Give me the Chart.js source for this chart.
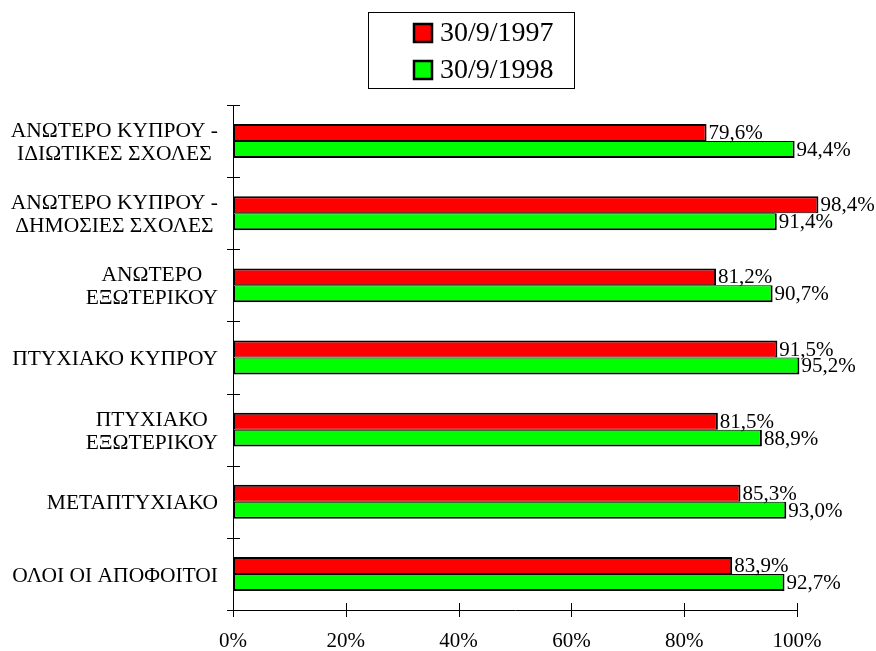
<!DOCTYPE html>
<html>
<head>
<meta charset="utf-8">
<script src="https://cdn.jsdelivr.net/npm/chart.js@4/dist/chart.umd.min.js"></script>
<style>
  body { margin: 0; background: #fff; }
  canvas { display: block; }
</style>
</head>
<body>
<canvas id="gradChart" width="876" height="651"></canvas>
<script>
const categories = [
    ['ΑΝΩΤΕΡΟ ΚΥΠΡΟΥ -', 'ΙΔΙΩΤΙΚΕΣ ΣΧΟΛΕΣ'],
    ['ΑΝΩΤΕΡΟ ΚΥΠΡΟΥ -', 'ΔΗΜΟΣΙΕΣ ΣΧΟΛΕΣ'],
    ['ΑΝΩΤΕΡΟ', 'ΕΞΩΤΕΡΙΚΟΥ'],
    'ΠΤΥΧΙΑΚΟ ΚΥΠΡΟΥ',
    ['ΠΤΥΧΙΑΚΟ', 'ΕΞΩΤΕΡΙΚΟΥ'],
    'ΜΕΤΑΠΤΥΧΙΑΚΟ',
    'ΟΛΟΙ ΟΙ ΑΠΟΦΟΙΤΟΙ'
];
const seriesNames = ['30/9/1997', '30/9/1998'];
const values1997 = [79.6, 98.4, 81.2, 91.5, 81.5, 85.3, 83.9];
const values1998 = [94.4, 91.4, 90.7, 95.2, 88.9, 93.0, 92.7];
const axisTicks = [0, 20, 40, 60, 80, 100];

const FONT = "'Times New Roman', 'Liberation Serif', serif";

function pct(v) {
    return v.toFixed(1).replace('.', ',') + '%';
}

// extra drawing: crossing tick marks, centred category labels, value labels, boxed legend
const extras = {
    id: 'extras',
    afterDraw(chart) {
        const ctx = chart.ctx;
        const xs = chart.scales.x;
        const ys = chart.scales.y;
        const area = chart.chartArea;
        ctx.save();
        ctx.strokeStyle = '#000';
        ctx.lineWidth = 1;

        // y tick marks at category boundaries
        for (let i = 0; i <= categories.length; i++) {
            const y = Math.round(ys.getPixelForValue(i - 0.5)) + 0.5;
            ctx.beginPath();
            ctx.moveTo(area.left - 6, y);
            ctx.lineTo(area.left + 7, y);
            ctx.stroke();
        }
        // x tick marks
        axisTicks.forEach(t => {
            const x = Math.round(xs.getPixelForValue(t)) + 0.5;
            ctx.beginPath();
            ctx.moveTo(x, area.bottom - 7);
            ctx.lineTo(x, area.bottom + 7);
            ctx.stroke();
        });

        // category labels, right aligned blocks with centred lines
        ctx.fillStyle = '#000';
        ctx.font = '21.5px ' + FONT;
        ctx.textAlign = 'center';
        ctx.textBaseline = 'middle';
        const lineH = 23;
        chart.data.labels.forEach((lab, i) => {
            const lines = Array.isArray(lab) ? lab : [lab];
            const widest = Math.max(...lines.map(l => ctx.measureText(l).width));
            const cx = area.left - 15 - widest / 2;
            const y0 = ys.getPixelForValue(i) + 2 - (lines.length - 1) * lineH / 2;
            lines.forEach((l, k) => ctx.fillText(l, cx, y0 + k * lineH));
        });

        // value labels at bar ends
        ctx.font = '21px ' + FONT;
        ctx.textAlign = 'left';
        chart.data.datasets.forEach((ds, di) => {
            chart.getDatasetMeta(di).data.forEach((bar, i) => {
                ctx.fillText(pct(ds.data[i]), bar.x + 2, bar.y + 1);
            });
        });

        // legend
        ctx.strokeRect(368.5, 12.5, 206, 76);
        ctx.font = '28px ' + FONT;
        const rows = [33, 70];
        chart.data.datasets.forEach((ds, di) => {
            const cy = rows[di];
            ctx.fillStyle = ds.backgroundColor;
            ctx.fillRect(414, cy - 9, 18, 18);
            ctx.lineWidth = 2.5;
            ctx.strokeRect(414, cy - 9, 18, 18);
            ctx.fillStyle = '#000';
            ctx.fillText(ds.label, 440, cy + 1);
        });
        ctx.restore();
    }
};

const ctxGrad = document.getElementById('gradChart').getContext('2d');
const gradChart = new Chart(ctxGrad, {
    type: 'bar',
    data: {
        labels: categories,
        datasets: [{
            label: seriesNames[0],
            data: values1997,
            backgroundColor: '#ff0000',
            borderColor: '#000',
            borderWidth: { top: 2, bottom: 1, left: 2, right: 2 },
            borderSkipped: false,
            xAxisID: 'xb',
            clip: false
        }, {
            label: seriesNames[1],
            data: values1998,
            backgroundColor: '#00ff00',
            borderColor: '#000',
            borderWidth: { top: 1, bottom: 2, left: 2, right: 2 },
            borderSkipped: false,
            xAxisID: 'xb',
            clip: false
        }]
    },
    options: {
        indexAxis: 'y',
        responsive: false,
        animation: false,
        categoryPercentage: 0.47,
        barPercentage: 1.0,
        layout: {
            padding: { top: 105, right: 79, bottom: 0, left: 0 }
        },
        plugins: {
            legend: { display: false },
            tooltip: { enabled: false }
        },
        scales: {
            xb: {
                type: 'linear',
                display: false,
                min: 0,
                max: 94.8
            },
            x: {
                type: 'linear',
                min: 0,
                max: 100,
                grid: { display: false, drawTicks: false },
                border: { display: true, color: '#000', width: 1 },
                ticks: {
                    stepSize: 20,
                    padding: 19,
                    color: '#000',
                    font: { family: FONT, size: 21 },
                    callback: v => v + '%'
                },
                afterFit: scale => { scale.height = 41; }
            },
            y: {
                type: 'category',
                offset: true,
                grid: { display: false, drawTicks: false },
                border: { display: true, color: '#000', width: 1 },
                ticks: { display: false },
                afterFit: scale => { scale.width = 233; }
            }
        }
    },
    plugins: [extras]
});
</script>
</body>
</html>
